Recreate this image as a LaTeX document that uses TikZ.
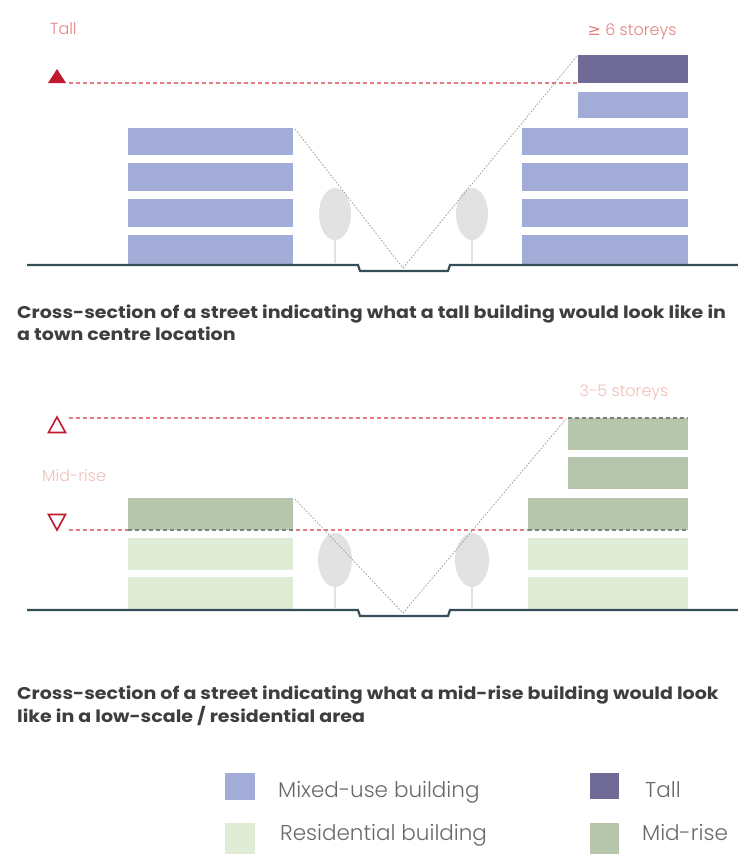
\documentclass[tikz,border=0pt]{standalone}
\usepackage{fontspec}
\setmainfont{Poppins}
\newfontfamily\capfont{Poppins}[FakeStretch=1.12]
\newfontfamily\lightfont{Poppins Light}
\newfontfamily\symfont{DejaVu Sans}
\definecolor{mixedc}{RGB}{162,172,214}
\definecolor{tallc}{RGB}{112,106,150}
\definecolor{midc}{RGB}{182,198,172}
\definecolor{resic}{RGB}{225,236,215}
\definecolor{redc}{RGB}{192,24,44}
\definecolor{levelc}{RGB}{232,120,132}
\definecolor{overc}{RGB}{120,130,120}
\definecolor{groundc}{RGB}{52,78,88}
\definecolor{treec}{RGB}{226,226,226}
\definecolor{sightc}{RGB}{150,150,150}
\definecolor{capc}{RGB}{62,62,62}
\definecolor{legc}{RGB}{105,105,105}
\definecolor{tagc}{RGB}{228,130,130}
\definecolor{tagpale}{RGB}{240,190,184}
\begin{document}
\begin{tikzpicture}[x=1pt,y=-1pt,
  mixed/.style={fill=mixedc},
  tallfl/.style={fill=tallc},
  midfl/.style={fill=midc},
  resifl/.style={fill=resic},
  ground/.style={draw=groundc,line width=2.2pt,line join=miter},
  sight/.style={draw=sightc,line width=0.7pt,dash pattern=on 1.6pt off 1.6pt},
  level/.style={draw=levelc,line width=1.4pt,dash pattern=on 4pt off 3pt},
  overlevel/.style={draw=overc,line width=1.4pt,dash pattern=on 4pt off 3pt},
  tree/.style={fill=treec},
  trunk/.style={draw=treec,line width=1.6pt},
  caption/.style={anchor=base west,inner sep=0pt,text=capc,font=\capfont\bfseries\fontsize{17}{20}\selectfont},
  legend/.style={anchor=base west,inner sep=0pt,text=legc,font=\lightfont\fontsize{21.5}{24}\selectfont},
  tag/.style={inner sep=0pt,font=\lightfont\fontsize{16}{19}\selectfont}]
\useasboundingbox (0,0) rectangle (738,854);

% ---------------- tall street section ----------------
\node[tag,anchor=base west,text=tagc] (talltag) at (50,34) {Tall};
\node[tag,anchor=base,text=tagc] (storeys6) at (632,35) {{\symfont≥} 6 storeys};

% trees
\fill[tree] (335,214) ellipse (16 and 26);
\draw[trunk] (335,238) -- (335,263);
\fill[tree] (472,214) ellipse (16 and 26);
\draw[trunk] (472,238) -- (472,263);

% left building
\foreach \a/\b in {128/155,163/191,199/227,235/264}
  \fill[mixed] (128,\a) rectangle (293,\b);
% right building
\fill[tallfl] (578,55) rectangle (688,83);
\fill[mixed] (578,92) rectangle (688,118);
\foreach \a/\b in {128/155,163/191,199/227,235/264}
  \fill[mixed] (522,\a) rectangle (688,\b);

% height limit
\fill[redc] (48,83) -- (66,83) -- (57,69) -- cycle;
\draw[level] (69,83) -- (578,83);

% sight lines
\draw[sight] (295,129) -- (403,268) -- (577,56);

% street
\draw[ground] (27,265) -- (358,265) -- (360,271) -- (448,271) -- (450,265) -- (738,265);

\node[caption] (cap1a) at (17,318) {Cross-section of a street indicating what a tall building would look like in};
\node[caption] (cap1b) at (17,340) {a town centre location};

% ---------------- mid-rise street section ----------------
\node[tag,anchor=base,text=tagpale] (storeys35) at (624,396) {3-5 storeys};
\node[tag,anchor=base west,text=tagpale] (midtag) at (42,481) {Mid-rise};

% trees
\fill[tree] (335,560) ellipse (17 and 27);
\draw[trunk] (335,585) -- (335,608);
\fill[tree] (472,560) ellipse (17 and 27);
\draw[trunk] (472,585) -- (472,608);

% left building
\fill[midfl] (128,498) rectangle (293,530);
\fill[resifl] (128,538) rectangle (293,570);
\fill[resifl] (128,577) rectangle (293,609);
% right building
\fill[midfl] (568,418) rectangle (688,450);
\fill[midfl] (568,457) rectangle (688,489);
\fill[midfl] (528,498) rectangle (688,530);
\fill[resifl] (528,538) rectangle (688,570);
\fill[resifl] (528,577) rectangle (688,609);

% height band
\draw[redc,line width=1.6pt,line join=miter] (48.5,432.5) -- (65.5,432.5) -- (57,417) -- cycle;
\draw[redc,line width=1.6pt,line join=miter] (48.5,514.5) -- (65.5,514.5) -- (57,530) -- cycle;
\draw[level] (69,418) -- (566,418);
\draw[overlevel] (568,418) -- (688,418);
\draw[level] (69,530) -- (128,530);
\draw[overlevel] (128,530) -- (293,530);
\draw[level] (296,530) -- (528,530);
\draw[overlevel] (528,530) -- (688,530);

% sight lines
\draw[sight] (295,499) -- (403,613) -- (566,419);

% street
\draw[ground] (27,610) -- (358,610) -- (360,616) -- (448,616) -- (450,610) -- (738,610);

\node[caption] (cap2a) at (17,699) {Cross-section of a street indicating what a mid-rise building would look};
\node[caption] (cap2b) at (17,722) {like in a low-scale / residential area};

% ---------------- legend ----------------
\fill[mixed] (225,773) rectangle (255,800);
\node[legend] (legmixed) at (278,797) {Mixed-use building};
\fill[tallfl] (590,773) rectangle (619,799);
\node[legend] (legtall) at (645,797) {Tall};
\fill[resifl] (225,823) rectangle (255,854);
\node[legend] (legresi) at (280,840) {Residential building};
\fill[midfl] (590,823) rectangle (619,854);
\node[legend] (legmid) at (642,840) {Mid-rise};
\end{tikzpicture}
\end{document}
